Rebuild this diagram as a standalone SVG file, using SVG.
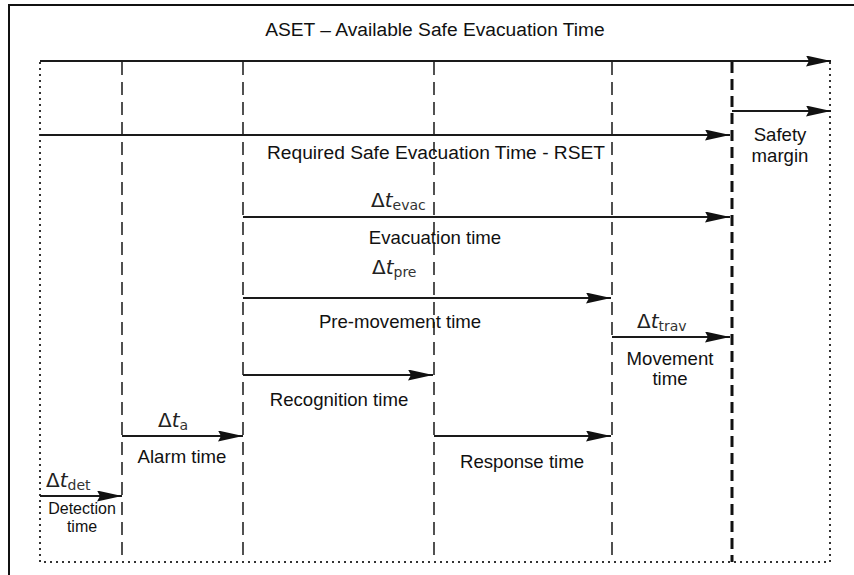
<svg xmlns="http://www.w3.org/2000/svg" width="854" height="575" viewBox="0 0 854 575">
<style>
.frame{fill:none;stroke:#111;stroke-width:2}
.dash{fill:none;stroke:#333;stroke-width:1.7;stroke-dasharray:13 7}
.bold{fill:none;stroke:#111;stroke-width:3;stroke-dasharray:11 6}
.dot{fill:none;stroke:#333;stroke-width:2;stroke-dasharray:2 4}
.arr{fill:none;stroke:#1a1a1a;stroke-width:2;marker-end:url(#ah)}
text{font-family:"Liberation Sans",Arial,sans-serif;fill:#111}
.lbl{font-size:18.6px;text-anchor:middle}
.big{font-size:19.2px;text-anchor:middle}
.sm{font-size:16px;text-anchor:middle}
.dt{font-family:"DejaVu Sans","Liberation Sans",sans-serif;font-size:20px;fill:#222}
.sub{font-family:"DejaVu Sans","Liberation Sans",sans-serif;font-size:14px;fill:#333}
</style>
<defs>
<marker id="ah" markerUnits="userSpaceOnUse" markerWidth="25" markerHeight="11" viewBox="0 0 25 11" refX="25" refY="5.5" orient="auto">
<path d="M0,0 L25,5.5 L0,11 L3,5.5 z" fill="#111"/>
</marker>
</defs>
<g id="frame">
<path class="frame" d="M9,575 V5 H854"/>
</g>
<g id="grid">
<path class="dot" d="M40,62 V562 H830 V62"/>
<path class="dash" d="M122,62 V562"/>
<path class="dash" d="M243,62 V562"/>
<path class="dash" d="M434,62 V562"/>
<path class="dash" d="M612,62 V562"/>
<path class="bold" d="M732,62 V562"/>
</g>
<g id="connectors">
<path class="arr" d="M40,61 H831"/>
<path class="arr" d="M732,111 H831"/>
<path class="arr" d="M40,135 H730"/>
<path class="arr" d="M243,217 H730"/>
<path class="arr" d="M243,298 H611"/>
<path class="arr" d="M612,337 H730"/>
<path class="arr" d="M243,375 H433"/>
<path class="arr" d="M122,436 H243"/>
<path class="arr" d="M434,436 H611"/>
<path class="arr" d="M40,496 H122"/>
</g>
<g id="aset"><text class="big" x="435" y="36">ASET – Available Safe Evacuation Time</text></g>
<g id="rset"><text class="big" x="436" y="159">Required Safe Evacuation Time - RSET</text></g>
<g id="safety"><text class="lbl" x="780" y="141">Safety</text><text class="lbl" x="780" y="162">margin</text></g>
<g id="evac"><text x="371" y="207"><tspan class="dt">Δ</tspan><tspan class="dt" font-style="italic">t</tspan><tspan class="sub" dy="3">evac</tspan></text>
<text class="lbl" x="435" y="244">Evacuation time</text></g>
<g id="pre"><text x="372" y="274"><tspan class="dt">Δ</tspan><tspan class="dt" font-style="italic">t</tspan><tspan class="sub" dy="3">pre</tspan></text>
<text class="lbl" x="400" y="328">Pre-movement time</text></g>
<g id="trav"><text x="637" y="328"><tspan class="dt">Δ</tspan><tspan class="dt" font-style="italic">t</tspan><tspan class="sub" dy="3">trav</tspan></text>
<text class="lbl" x="670" y="365">Movement</text><text class="lbl" x="670" y="385">time</text></g>
<g id="recognition"><text class="lbl" x="339" y="406">Recognition time</text></g>
<g id="alarm"><text x="158" y="427"><tspan class="dt">Δ</tspan><tspan class="dt" font-style="italic">t</tspan><tspan class="sub" dy="3">a</tspan></text>
<text class="lbl" x="182" y="463">Alarm time</text></g>
<g id="response"><text class="lbl" x="522" y="468">Response time</text></g>
<g id="detection"><text x="46" y="487"><tspan class="dt">Δ</tspan><tspan class="dt" font-style="italic">t</tspan><tspan class="sub" dy="3">det</tspan></text>
<text class="sm" x="82" y="514">Detection</text><text class="sm" x="82" y="532">time</text></g>
</svg>
